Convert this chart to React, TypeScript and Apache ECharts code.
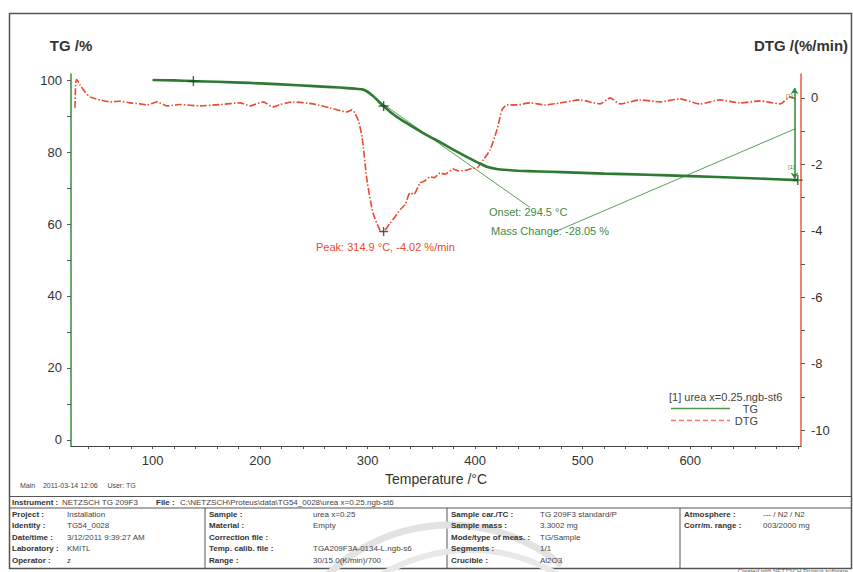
import React, { useEffect, useRef } from "react";
import * as echarts from "echarts";

// ---------- data ----------
const tgTemp = [100, 120, 138, 160, 190, 220, 250, 274, 288, 295, 300, 305, 310, 315, 322, 330, 342, 355, 367, 380, 393, 403, 411, 420, 430, 440, 460, 480, 520, 560, 600, 650, 700];
const tgMass = [100.0, 99.9, 99.7, 99.5, 99.2, 98.8, 98.3, 97.9, 97.6, 97.4, 96.8, 95.6, 94.1, 92.7, 90.9, 89.2, 87.0, 84.7, 82.8, 80.6, 78.5, 77.0, 75.9, 75.3, 75.0, 74.8, 74.6, 74.4, 74.0, 73.7, 73.3, 72.8, 72.2];

const dtgTemp = [27.9, 28.6, 29.5, 32.6, 37.2, 41.9, 51.2, 60.5, 69.8, 79.1, 88.4, 94.9, 104.2, 113.5, 125.6, 144.2, 162.8, 181.4, 190.6, 202.7, 212, 218.5, 225.1, 230.6, 249.2, 265, 280.8, 285.5, 291.1, 294.8, 299.4, 305, 311.5, 314.9, 320.8, 325, 330.1, 335, 339.4, 343, 348.7, 353, 358, 362, 367.3, 372, 379.4, 385, 392.4, 397, 401.7, 407.3, 413.8, 420.3, 425, 429.6, 438.9, 451, 465, 479, 497.5, 516, 525.4, 534.7, 553.3, 571.9, 590.5, 609, 627.7, 646.3, 664.9, 683.5, 692.8, 699.3];
const dtgRate = [-0.3, 0.45, 0.55, 0.39, 0.18, 0.03, -0.06, -0.12, -0.1, -0.15, -0.18, -0.21, -0.12, -0.24, -0.2, -0.24, -0.2, -0.15, -0.24, -0.12, -0.27, -0.2, -0.15, -0.12, -0.18, -0.3, -0.42, -0.36, -0.66, -1.17, -2.47, -3.46, -3.98, -4.02, -3.77, -3.6, -3.37, -3.2, -2.86, -2.9, -2.56, -2.5, -2.38, -2.4, -2.26, -2.3, -2.14, -2.2, -2.17, -2.12, -2.11, -1.87, -1.57, -0.96, -0.36, -0.21, -0.21, -0.15, -0.21, -0.15, -0.06, -0.18, 0.0, -0.18, -0.06, -0.12, -0.03, -0.18, -0.06, -0.15, -0.09, -0.18, 0.03, -0.05];

const onsetLineT = [294.5, 451];
const onsetLineM = [97.5, 64.6];
const massLeaderT = [474, 698];
const massLeaderM = [57.8, 86.5];
const tgMarkerT = [138, 314.9, 700];
const tgMarkerM = [99.7, 92.8, 72.2];
const peakT = [314.9];
const peakR = [-4.02];
const stepArrowT = [697, 697];
const stepArrowM = [97.8, 72.6];

const xLabels = [100, 200, 300, 400, 500, 600];
const xTicks = [40, 60, 80, 100, 120, 140, 160, 180, 200, 220, 240, 260, 280, 300, 320, 340, 360, 380, 400, 420, 440, 460, 480, 500, 520, 540, 560, 580, 600, 620, 640, 660, 680, 700];
const tgLabels = [0, 20, 40, 60, 80, 100];
const tgTicks = [0, 10, 20, 30, 40, 50, 60, 70, 80, 90, 100];
const dtgLabels = [0, -2, -4, -6, -8, -10];
const dtgTicks = [0, -1, -2, -3, -4, -5, -6, -7, -8, -9, -10];

const infoInstrument = ["Instrument :", "NETZSCH TG 209F3", "File :", "C:\\NETZSCH\\Proteus\\data\\TG54_0028\\urea x=0.25.ngb-st6"];
const infoCol1 = [["Project :", "Installation"], ["Identity :", "TG54_0028"], ["Date/time :", "3/12/2011 9:39:27 AM"], ["Laboratory :", "KMITL"], ["Operator :", "z"]];
const infoCol2 = [["Sample :", "urea x=0.25"], ["Material :", "Empty"], ["Correction file :", ""], ["Temp. calib. file :", "TGA209F3A-0134-L.ngb-s6"], ["Range :", "30/15.0(K/min)/700"]];
const infoCol3 = [["Sample car./TC :", "TG 209F3 standard/P"], ["Sample mass :", "3.3002 mg"], ["Mode/type of meas. :", "TG/Sample"], ["Segments :", "1/1"], ["Crucible :", "Al2O3"]];
const infoCol4 = [["Atmosphere :", "--- / N2 / N2"], ["Corr/m. range :", "003/2000 mg"]];

const zip = (a: number[], b: number[]) => a.map((v, i) => [v, b[i]]);

const FONT = '"Liberation Sans", Arial, sans-serif';
const GREEN = "#2f7a32";
const GREEN_LIGHT = "#5a9e5a";
const RED = "#ea4a2e";

function txt(x: number, y: number, text: string, opts: any = {}) {
  return {
    type: "text",
    x,
    y,
    silent: true,
    z: 10,
    style: {
      text,
      fill: opts.fill || "#333",
      fontSize: opts.fontSize || 8,
      fontFamily: FONT,
      fontWeight: opts.bold ? "bold" : "normal",
      align: opts.align || "left",
      verticalAlign: "middle",
    },
  };
}

function hline(x1: number, x2: number, y: number, w = 1, c = "#555") {
  return { type: "line", silent: true, shape: { x1, y1: y, x2, y2: y }, style: { stroke: c, lineWidth: w } };
}
function vline(x: number, y1: number, y2: number, w = 1, c = "#555") {
  return { type: "line", silent: true, shape: { x1: x, y1, x2: x, y2 }, style: { stroke: c, lineWidth: w } };
}

export default function App() {
  const ref = useRef<HTMLDivElement>(null);
  useEffect(() => {
    document.body.style.margin = "0";
    const chart = echarts.init(ref.current!, null, { renderer: "svg" });

    const rowsY = [514, 525.5, 537, 548.5, 560];
    const tableGraphics: any[] = [];
    // frame
    tableGraphics.push({ type: "rect", silent: true, shape: { x: 9.5, y: 13.5, width: 842, height: 555 }, style: { fill: "none", stroke: "#555", lineWidth: 1.5 } });
    tableGraphics.push(hline(9, 852, 496.5, 1.2));
    tableGraphics.push(hline(9, 852, 508, 1));
    tableGraphics.push(vline(205, 508, 568));
    tableGraphics.push(vline(447, 508, 568));
    tableGraphics.push(vline(680, 508, 568));
    // watermark arcs
    tableGraphics.push({ type: "arc", silent: true, z: 0, shape: { cx: 450, cy: 700, r: 175, startAngle: Math.PI * 1.2, endAngle: Math.PI * 1.72 }, style: { stroke: "#e2e2e2", lineWidth: 7, fill: "none" } });
    tableGraphics.push({ type: "arc", silent: true, z: 0, shape: { cx: 470, cy: 720, r: 170, startAngle: Math.PI * 1.28, endAngle: Math.PI * 1.8 }, style: { stroke: "#e8e8e8", lineWidth: 6, fill: "none" } });

    tableGraphics.push(txt(12, 502, infoInstrument[0], { bold: true }));
    tableGraphics.push(txt(62, 502, infoInstrument[1], { fill: "#444" }));
    tableGraphics.push(txt(156, 502, infoInstrument[2], { bold: true }));
    tableGraphics.push(txt(180, 502, infoInstrument[3], { fill: "#444" }));
    const cols = [
      { data: infoCol1, lx: 12, vx: 67 },
      { data: infoCol2, lx: 209, vx: 313 },
      { data: infoCol3, lx: 451, vx: 540 },
      { data: infoCol4, lx: 684, vx: 763 },
    ];
    cols.forEach((c) => {
      c.data.forEach((r, i) => {
        tableGraphics.push(txt(c.lx, rowsY[i], r[0], { bold: true }));
        if (r[1]) tableGraphics.push(txt(c.vx, rowsY[i], r[1], { fill: "#444" }));
      });
    });
    tableGraphics.push(txt(848, 570.5, "Created with NETZSCH Proteus software", { fontSize: 6, align: "right", fill: "#666" }));
    tableGraphics.push(txt(20, 485, "Main    2011-03-14 12:06     User: TG", { fontSize: 7, fill: "#444" }));

    // annotations
    const ann: any[] = [
      txt(316, 247, "Peak: 314.9 °C, -4.02 %/min", { fontSize: 11, fill: RED }),
      txt(489, 212, "Onset: 294.5 °C", { fontSize: 11, fill: "#3f8a3f" }),
      txt(491, 231, "Mass Change: -28.05 %", { fontSize: 11, fill: "#3f8a3f" }),
      txt(786, 96, "[1]", { fontSize: 6, fill: "#3f8a3f" }),
      txt(788, 167, "[1]", { fontSize: 6, fill: "#3f8a3f" }),
      // legend
      txt(669, 397, "[1] urea x=0.25.ngb-st6", { fontSize: 11, fill: "#444" }),
      hline(671, 730, 408.5, 1.5, "#4f9a4f"),
      txt(758, 408.5, "TG", { fontSize: 11, fill: "#444", align: "right" }),
      { type: "line", silent: true, shape: { x1: 671, y1: 420.5, x2: 730, y2: 420.5 }, style: { stroke: "#f07a66", lineWidth: 1.5, lineDash: [5, 3] } },
      txt(758, 420.5, "DTG", { fontSize: 11, fill: "#444", align: "right" }),
    ];

    const plusPath = "path://M5,0L5,10M0,5L10,5";

    chart.setOption({
      animation: false,
      backgroundColor: "#fff",
      textStyle: { fontFamily: FONT },
      grid: { left: 71, right: 52, top: 74, bottom: 126 },
      xAxis: {
        type: "value",
        min: 24.2,
        max: 703,
        name: "Temperature /°C",
        nameLocation: "middle",
        nameGap: 23,
        nameTextStyle: { fontSize: 14, color: "#333", fontFamily: FONT },
        axisLine: { show: true, onZero: false, lineStyle: { color: "#444", width: 1 } },
        axisTick: { show: true, customValues: xTicks, length: 3, lineStyle: { color: "#555" } },
        axisLabel: { customValues: xLabels, color: "#333", fontSize: 13, margin: 8, fontFamily: FONT },
        splitLine: { show: false },
      },
      yAxis: [
        {
          type: "value",
          position: "left",
          min: -1.67,
          max: 101.67,
          name: "TG /%",
          nameLocation: "end",
          nameGap: 21,
          nameTextStyle: { fontSize: 15, fontWeight: "bold", color: "#333", align: "center", fontFamily: FONT },
          axisLine: { show: true, onZero: false, lineStyle: { color: "#3a8d3a", width: 1.5 } },
          axisTick: { show: true, customValues: tgTicks, length: 4, lineStyle: { color: "#555" } },
          axisLabel: { customValues: tgLabels, color: "#333", fontSize: 13, margin: 9, fontFamily: FONT },
          splitLine: { show: false },
        },
        {
          type: "value",
          position: "right",
          min: -10.48,
          max: 0.72,
          name: "DTG /(%/min)",
          nameLocation: "end",
          nameGap: 21,
          nameTextStyle: { fontSize: 15, fontWeight: "bold", color: "#333", align: "center", fontFamily: FONT },
          axisLine: { show: true, onZero: false, lineStyle: { color: "#ef5a3a", width: 1.5 } },
          axisTick: { show: true, customValues: dtgTicks, length: 4, lineStyle: { color: "#555" } },
          axisLabel: { customValues: dtgLabels, color: "#333", fontSize: 13, margin: 10, fontFamily: FONT },
          splitLine: { show: false },
        },
      ],
      series: [
        {
          name: "Onset tangent",
          type: "line",
          yAxisIndex: 0,
          data: zip(onsetLineT, onsetLineM),
          showSymbol: false,
          lineStyle: { color: GREEN_LIGHT, width: 1 },
          z: 2,
        },
        {
          name: "Mass change leader",
          type: "line",
          yAxisIndex: 0,
          data: zip(massLeaderT, massLeaderM),
          showSymbol: false,
          lineStyle: { color: GREEN_LIGHT, width: 1 },
          z: 2,
        },
        {
          name: "DTG",
          type: "line",
          yAxisIndex: 1,
          data: zip(dtgTemp, dtgRate),
          showSymbol: false,
          smooth: 0.2,
          lineStyle: { color: RED, width: 1.6, type: [7, 2, 1.5, 2] },
          z: 3,
        },
        {
          name: "TG",
          type: "line",
          yAxisIndex: 0,
          data: zip(tgTemp, tgMass),
          showSymbol: false,
          smooth: 0.2,
          lineStyle: { color: GREEN, width: 2.6 },
          z: 4,
        },
        {
          name: "TG markers",
          type: "scatter",
          yAxisIndex: 0,
          data: zip(tgMarkerT, tgMarkerM),
          symbol: plusPath,
          symbolSize: 10,
          itemStyle: { color: "none", borderColor: "#1e3f1e", borderWidth: 1.4 },
          z: 5,
        },
        {
          name: "Peak marker",
          type: "scatter",
          yAxisIndex: 1,
          data: zip(peakT, peakR),
          symbol: plusPath,
          symbolSize: 9,
          itemStyle: { color: "none", borderColor: "#333", borderWidth: 1.4 },
          z: 5,
        },
        {
          name: "Step arrow",
          type: "lines",
          coordinateSystem: "cartesian2d",
          yAxisIndex: 0,
          data: [{ coords: zip(stepArrowT, stepArrowM) }],
          symbol: ["arrow", "arrow"],
          symbolSize: 6,
          lineStyle: { color: "#2f8a32", width: 1.5, opacity: 1 },
          z: 5,
        },
      ],
      graphic: [...tableGraphics, ...ann],
    });
    return () => chart.dispose();
  }, []);
  return <div ref={ref} style={{ position: "fixed", left: 0, top: 0, width: 853, height: 572 }} />;
}
